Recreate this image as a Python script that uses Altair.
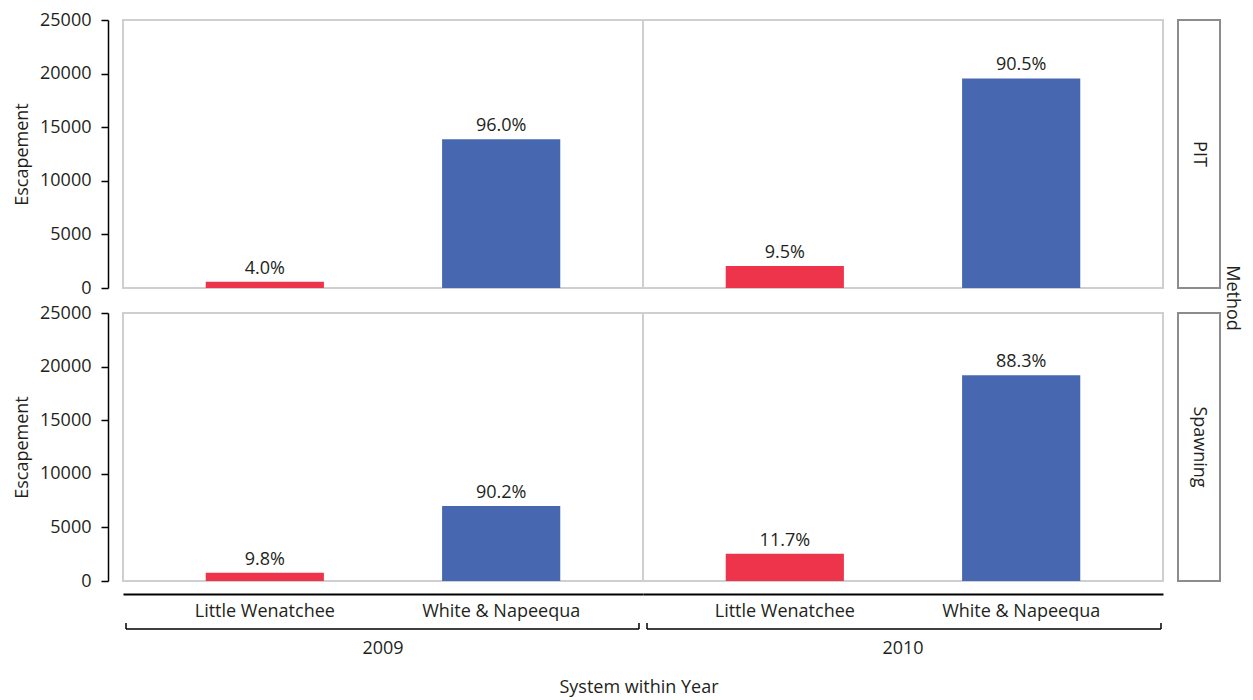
import altair as alt
import pandas as pd

methods = ["PIT", "Spawning"]
years = ["2009", "2010"]
systems = ["Little Wenatchee", "White & Napeequa"]

pit_2009 = [578, 13880]
pit_2010 = [2050, 19550]
spawning_2009 = [760, 6990]
spawning_2010 = [2540, 19200]

pit_2009_labels = ["4.0%", "96.0%"]
pit_2010_labels = ["9.5%", "90.5%"]
spawning_2009_labels = ["9.8%", "90.2%"]
spawning_2010_labels = ["11.7%", "88.3%"]

y_ticks = [0, 5000, 10000, 15000, 20000, 25000]

series = {
    ("PIT", "2009"): (pit_2009, pit_2009_labels),
    ("PIT", "2010"): (pit_2010, pit_2010_labels),
    ("Spawning", "2009"): (spawning_2009, spawning_2009_labels),
    ("Spawning", "2010"): (spawning_2010, spawning_2010_labels),
}
rows = []
for (m, yr), (vals, labs) in series.items():
    for s, v, l in zip(systems, vals, labs):
        rows.append({"Method": m, "Year": yr, "System": s, "Escapement": v, "Label": l})
df = pd.DataFrame(rows)

FONT = "Open Sans"
FS = 18
TXT = "#231f20"
RED = "#EE344B"
BLUE = "#4768B0"
W, H = 520, 268


def panel(method, year, left, bottom):
    sub = df[(df.Method == method) & (df.Year == year)]
    base = alt.Chart(sub)
    if bottom:
        xaxis = alt.Axis(orient="bottom", offset=13, domainColor="black", domainWidth=2,
                         ticks=False, labelAngle=0, labelPadding=8, labelFont=FONT,
                         labelFontSize=FS, labelColor=TXT, grid=False)
    else:
        xaxis = None
    x = alt.X("System:N", sort=systems, title=None, axis=xaxis,
              scale=alt.Scale(domain=systems, paddingInner=0.5, paddingOuter=0.35))
    if left:
        yaxis = alt.Axis(values=y_ticks, format="d", offset=15, domainColor="black",
                         domainWidth=1.5, tickColor="black", tickWidth=1.5, tickSize=7,
                         labelPadding=10, labelFont=FONT, labelFontSize=FS, labelColor=TXT,
                         titleFont=FONT, titleFontSize=FS, titleFontWeight="normal",
                         titleColor=TXT, titlePadding=8, grid=False)
        y = alt.Y("Escapement:Q", title="Escapement", axis=yaxis,
                  scale=alt.Scale(domain=[0, 25000]))
    else:
        y = alt.Y("Escapement:Q", title=None, axis=None, scale=alt.Scale(domain=[0, 25000]))

    bars = base.mark_bar().encode(
        x=x, y=y,
        color=alt.Color("System:N", scale=alt.Scale(domain=systems, range=[RED, BLUE]), legend=None),
    )
    text = base.mark_text(baseline="bottom", dy=-4, font=FONT, fontSize=FS, color=TXT).encode(
        x=x, y=y, text="Label:N"
    )
    layers = [bars, text]

    if year == years[-1]:
        hdr = alt.Chart(pd.DataFrame({"Method": [method]}))
        layers.append(hdr.mark_rect(fill="white", fillOpacity=0, stroke="#8c8c8c", strokeWidth=2).encode(
            x=alt.value(W + 15), x2=alt.value(W + 57), y=alt.value(0), y2=alt.value(H)))
        layers.append(hdr.mark_text(angle=90, font=FONT, fontSize=FS, color=TXT).encode(
            text="Method:N", x=alt.value(W + 36), y=alt.value(H / 2)))
        if method == methods[0]:
            mt = alt.Chart(pd.DataFrame({"t": ["Method"]}))
            layers.append(mt.mark_text(angle=90, font=FONT, fontSize=FS, color=TXT).encode(
                text="t:N", x=alt.value(W + 69), y=alt.value(H + 10)))

    if bottom:
        yd = alt.Chart(pd.DataFrame({"Year": [year]}))
        x0, x1 = (3, W - 4) if year == years[0] else (4, W - 2)
        layers.append(yd.mark_rule(color="black", strokeWidth=1.5).encode(
            x=alt.value(x0), x2=alt.value(x1), y=alt.value(H + 48)))
        layers.append(yd.mark_rule(color="black", strokeWidth=1.5).encode(
            x=alt.value(x0), y=alt.value(H + 42), y2=alt.value(H + 48)))
        layers.append(yd.mark_rule(color="black", strokeWidth=1.5).encode(
            x=alt.value(x1), y=alt.value(H + 42), y2=alt.value(H + 48)))
        layers.append(yd.mark_text(font=FONT, fontSize=FS, color=TXT).encode(
            text="Year:N", x=alt.value(W / 2), y=alt.value(H + 68)))
        if year == years[0]:
            st = alt.Chart(pd.DataFrame({"t": ["System within Year"]}))
            layers.append(st.mark_text(font=FONT, fontSize=FS, color=TXT).encode(
                text="t:N", x=alt.value(W - 4), y=alt.value(H + 107)))

    return alt.layer(*layers).properties(width=W, height=H)


panels = []
for mi, m in enumerate(methods):
    for yi, yr in enumerate(years):
        panels.append(panel(m, yr, left=(yi == 0), bottom=(mi == len(methods) - 1)))

chart = alt.concat(
    *panels, columns=2, spacing={"row": 25, "column": 0}, bounds="flush"
).properties(
    padding={"left": 4, "top": 2, "right": 3, "bottom": 0}
).configure_view(stroke="#cfcfcf", strokeWidth=2)

chart.save("out.html", embed_options={"renderer": "svg", "actions": False})
